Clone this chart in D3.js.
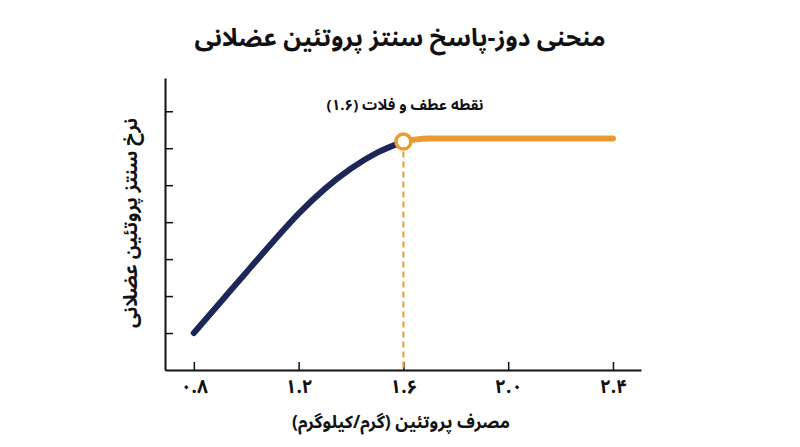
<!DOCTYPE html>
<html lang="fa">
<head>
<meta charset="utf-8">
<script src="https://cdn.jsdelivr.net/npm/d3@7"></script>
<style>
  body { margin: 0; background: #fff; }
  svg text { font-family: "Noto Sans Arabic", "DejaVu Sans", sans-serif; font-weight: bold; fill: #111; }
</style>
</head>
<body>
<svg id="chart" width="800" height="447"></svg>
<script>
// dose (g/kg) vs synthesis rate
const riseDose = [0.8, 0.9, 1.0, 1.1, 1.2, 1.3, 1.4, 1.5, 1.6];
const riseRate = [1.0, 1.82, 2.64, 3.45, 4.23, 4.9, 5.45, 5.88, 6.18];
const plateauDose = [1.6, 1.65, 1.7, 2.0, 2.4];
const plateauRate = [6.18, 6.24, 6.26, 6.26, 6.26];
const xTicks = [0.8, 1.2, 1.6, 2.0, 2.4];
const xTickLabels = ["۰.۸", "۱.۲", "۱.۶", "۲.۰", "۲.۴"];
const yTicks = [1, 2, 3, 4, 5, 6, 7];
const breakpoint = { dose: 1.6, rate: 6.18 };

const title = "منحنی دوز-پاسخ سنتز پروتئین عضلانی";
const xTitle = "مصرف پروتئین (گرم/کیلوگرم)";
const yTitle = "نرخ سنتز پروتئین عضلانی";
const noteText = "نقطه عطف و فلات (۱.۶)";

const navy = "#1d2757";
const orange = "#e89c2f";

const svg = d3.select("#chart");
const plotLeft = 165, plotRight = 641, plotTop = 78, plotBottom = 370;

const x = d3.scaleLinear().domain([0.69, 2.507]).range([plotLeft, plotRight]);
const y = d3.scaleLinear().domain([0, 7.9]).range([plotBottom, plotTop]);

// title
svg.append("text")
  .attr("x", 400).attr("y", 46)
  .attr("text-anchor", "middle")
  .attr("font-size", 24.5)
  .text(title);

// axes
const xAxis = svg.append("g")
  .attr("transform", `translate(0,${plotBottom})`)
  .call(d3.axisBottom(x).tickValues(xTicks).tickSizeInner(-8).tickSizeOuter(0)
    .tickFormat((d, i) => xTickLabels[i]));
const yAxis = svg.append("g")
  .attr("transform", `translate(${plotLeft},0)`)
  .call(d3.axisLeft(y).tickValues(yTicks).tickSizeInner(-8).tickSizeOuter(0)
    .tickFormat(""));

[xAxis, yAxis].forEach(g => {
  g.select(".domain").attr("stroke", "#111").attr("stroke-width", 2);
  g.selectAll(".tick line").attr("stroke", "#111").attr("stroke-width", 1.5);
});
xAxis.selectAll(".tick text")
  .attr("dy", 0).attr("y", 23)
  .attr("font-size", 19)
  .attr("font-family", "\"Noto Sans Arabic\", \"DejaVu Sans\", sans-serif")
  .attr("font-weight", "bold")
  .attr("fill", "#111");

// axis titles
svg.append("text")
  .attr("x", 401).attr("y", 428)
  .attr("text-anchor", "middle")
  .attr("font-size", 17.5)
  .text(xTitle);

svg.append("text")
  .attr("transform", `translate(137,${(plotTop + plotBottom) / 2 - 1}) rotate(-90)`)
  .attr("text-anchor", "middle")
  .attr("font-size", 19)
  .text(yTitle);

// dashed guide at the breakpoint
svg.append("line")
  .attr("x1", x(breakpoint.dose)).attr("x2", x(breakpoint.dose))
  .attr("y1", y(breakpoint.rate)).attr("y2", plotBottom)
  .attr("stroke", orange)
  .attr("stroke-width", 2)
  .attr("stroke-dasharray", "6,4");

const line = d3.line()
  .x(d => x(d[0]))
  .y(d => y(d[1]))
  .curve(d3.curveMonotoneX);

svg.append("path")
  .datum(riseDose.map((d, i) => [d, riseRate[i]]))
  .attr("d", line)
  .attr("fill", "none")
  .attr("stroke", navy)
  .attr("stroke-width", 6)
  .attr("stroke-linecap", "round");

svg.append("path")
  .datum(plateauDose.map((d, i) => [d, plateauRate[i]]))
  .attr("d", line)
  .attr("fill", "none")
  .attr("stroke", orange)
  .attr("stroke-width", 6)
  .attr("stroke-linecap", "round");

svg.append("circle")
  .attr("cx", x(breakpoint.dose))
  .attr("cy", y(breakpoint.rate))
  .attr("r", 7.5)
  .attr("fill", "#fff")
  .attr("stroke", orange)
  .attr("stroke-width", 3.5);

svg.append("text")
  .attr("x", 405).attr("y", 110)
  .attr("text-anchor", "middle")
  .attr("font-size", 15)
  .text(noteText);
</script>
</body>
</html>
